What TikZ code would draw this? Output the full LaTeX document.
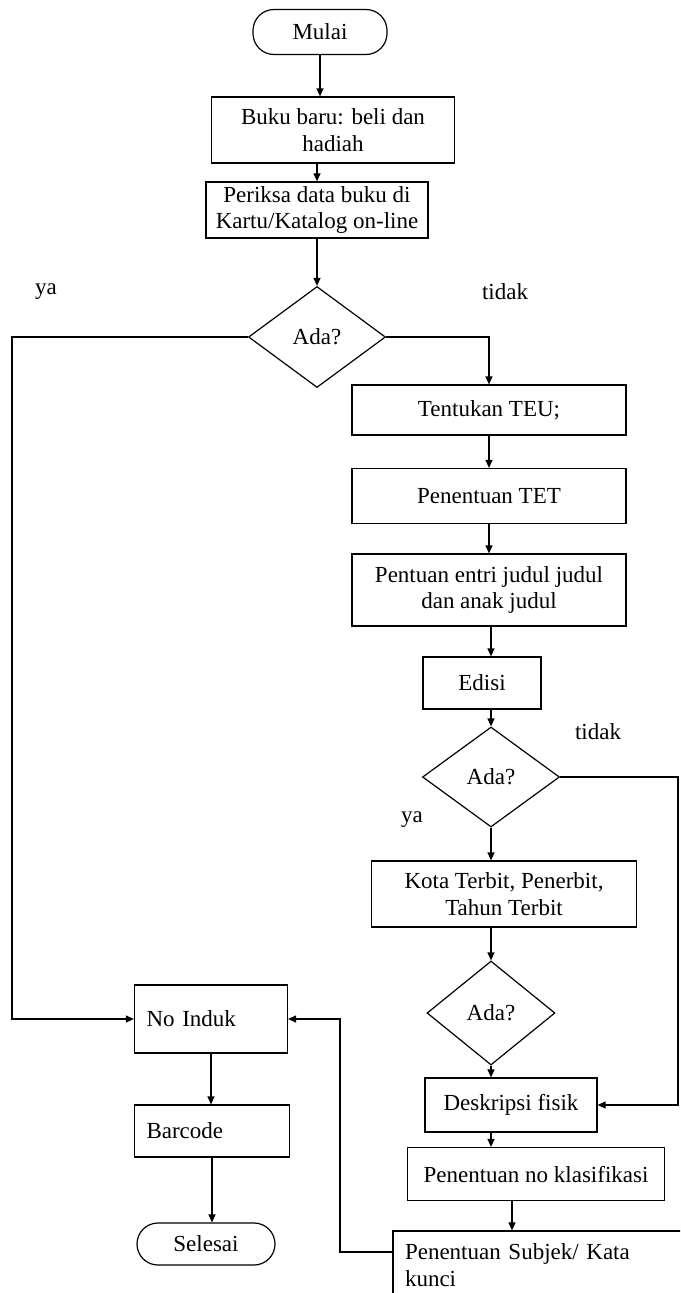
\documentclass[tikz,border=0pt]{standalone}
\usepackage{fontspec}
\setmainfont{Liberation Serif}
\usepackage{tikz}
\usetikzlibrary{arrows.meta,positioning,shapes.geometric}
\newcommand{\chartfont}{\fontsize{23}{26.5}\selectfont}

\begin{document}
\begin{tikzpicture}[
  x=1pt, y=-1pt,
  proc/.style={rectangle,draw=black,fill=white,line width=1.2pt,
               font=\chartfont,inner sep=0pt,align=center},
  lproc/.style={proc,align=left,inner xsep=12pt},
  term/.style={proc,rounded corners=21pt},
  cond/.style={diamond,draw=black,fill=white,line width=1.2pt,
               font=\chartfont,inner sep=0pt},
  lbl/.style={font=\chartfont},
  arr/.style={line width=1.2pt,-{Triangle[length=8pt,width=7pt]}},
]
  \useasboundingbox (0,0) rectangle (680,1293);
  \clip (0,0) rectangle (680,1293);

  % upper column
  \node[term,minimum width=134pt,minimum height=45pt](mulai) at (320,32) {Mulai};
  \node[proc,minimum width=243pt,minimum height=66pt](buku) at (333,130)
    {Buku baru: beli dan\\hadiah};
  \node[proc,minimum width=222pt,minimum height=56pt](periksa) at (317,210)
    {Periksa data buku di\\Kartu/Katalog on-line};
  \node[cond,minimum width=137pt,minimum height=101pt](ada1) at (317,337) {Ada?};

  % right column
  \node[proc,minimum width=274pt,minimum height=50pt](teu) at (489,410) {Tentukan TEU;};
  \node[proc,minimum width=274pt,minimum height=55pt](tet) at (489,496) {Penentuan TET};
  \node[proc,minimum width=274pt,minimum height=72pt](entri) at (489,590)
    {Pentuan entri judul judul\\dan anak judul};
  \node[proc,minimum width=118pt,minimum height=52pt](edisi) at (482,683) {Edisi};
  \node[cond,minimum width=137pt,minimum height=100pt](ada2) at (491,777) {Ada?};
  \node[proc,minimum width=265pt,minimum height=66pt](kota) at (504,894)
    {Kota Terbit, Penerbit,\\Tahun Terbit};
  \node[cond,minimum width=128pt,minimum height=104pt](ada3) at (491,1013) {Ada?};
  \node[proc,minimum width=172pt,minimum height=54pt](deskripsi) at (511,1105) {Deskripsi fisik};
  \node[proc,minimum width=257pt,minimum height=53pt](klas) at (536,1174) {Penentuan no klasifikasi};
  \node[lproc,text width=296pt,minimum height=68pt](subjek) at (553,1265)
    {Penentuan Subjek/ Kata\\kunci};

  % left column
  \node[lproc,text width=129pt,minimum height=68pt](noinduk) at (211,1019) {No Induk};
  \node[lproc,text width=131pt,minimum height=52pt](barcode) at (212,1131) {Barcode};
  \node[term,minimum width=138pt,minimum height=42pt](selesai) at (206,1244) {Selesai};

  % branch labels
  \node[lbl](ya1) at (46,292) {ya};
  \node[lbl](tdk1) at (505,292) {tidak};
  \node[lbl](tdk2) at (598,732) {tidak};
  \node[lbl](ya2) at (412,820) {ya};

  \coordinate (lft) at (12,337);
  \coordinate (rgt) at (678,777);
  \coordinate (back) at (340,1252);

  % connectors
  \draw[arr] (mulai) -- (mulai |- buku.north);
  \draw[arr] (periksa |- buku.south) -- (periksa);
  \draw[arr] (periksa) -- (ada1);
  \draw[arr] (ada1.west) -- (lft) |- (noinduk.west);
  \draw[arr] (ada1.east) -| (teu.north);
  \draw[arr] (teu) -- (tet);
  \draw[arr] (tet) -- (entri);
  \draw[arr] (entri.south -| ada2) -- (ada2 |- edisi.north);
  \draw[arr] (ada2 |- edisi.south) -- (ada2);
  \draw[arr] (ada2.east) -- (rgt) |- (deskripsi.east);
  \draw[arr] (ada2) -- (ada2 |- kota.north);
  \draw[arr] (ada3 |- kota.south) -- (ada3);
  \draw[arr] (ada3) -- (ada3 |- deskripsi.north);
  \draw[arr] (ada3 |- deskripsi.south) -- (ada3 |- klas.north);
  \draw[arr] ([xshift=-24pt]klas.south) -- ([xshift=-24pt]klas.south |- subjek.north);
  \draw[arr] (subjek.west |- back) -- (back) |- (noinduk.east);
  \draw[arr] (noinduk) -- (noinduk |- barcode.north);
  \draw[arr] (barcode) -- (barcode |- selesai.north);
\end{tikzpicture}
\end{document}
